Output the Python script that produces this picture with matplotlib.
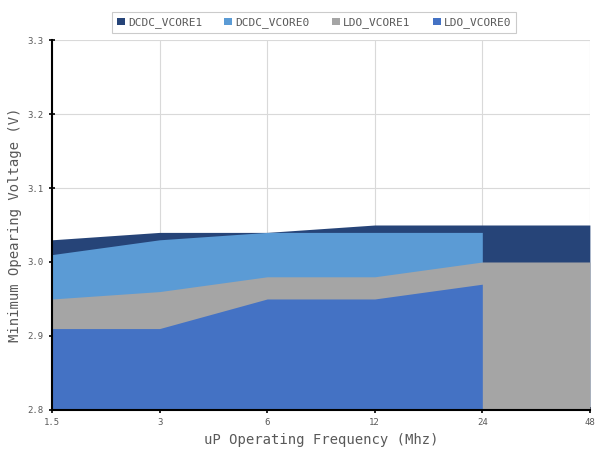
import numpy as np
import matplotlib
matplotlib.use("Agg")
import matplotlib.pyplot as plt

freqs = ["1.5", "3", "6", "12", "24", "48"]
dcdc_vcore1 = [3.03, 3.04, 3.04, 3.05, 3.05, 3.05]
dcdc_vcore0 = [3.01, 3.03, 3.04, 3.04, 3.04, None]
ldo_vcore1 = [2.95, 2.96, 2.98, 2.98, 3.00, 3.00]
ldo_vcore0 = [2.91, 2.91, 2.95, 2.95, 2.97, None]

names = ["DCDC_VCORE1", "DCDC_VCORE0", "LDO_VCORE1", "LDO_VCORE0"]
series = [dcdc_vcore1, dcdc_vcore0, ldo_vcore1, ldo_vcore0]
colors = ["#264478", "#5B9BD5", "#A5A5A5", "#4472C4"]

plt.rcParams['font.family'] = ['DejaVu Sans Mono']

fig = plt.figure(figsize=(5.95, 4.5), dpi=100)
ax = fig.add_axes([0.0874, 0.089, 0.904, 0.822])

x = np.arange(len(freqs))
for name, vals, col in zip(names, series, colors):
    n = sum(v is not None for v in vals)
    ax.fill_between(x[:n], 2.8, np.array(vals[:n], dtype=float), color=col,
                    linewidth=0, label=name, zorder=2)

ax.set_xlim(0, len(freqs) - 1)
ax.set_ylim(2.8, 3.3)
ax.set_xticks(x)
ax.set_xticklabels(freqs)
ax.set_yticks([2.8, 2.9, 3.0, 3.1, 3.2, 3.3])
ax.set_yticklabels(["2.8", "2.9", "3.0", "3.1", "3.2", "3.3"])
ax.grid(True, color="#D9D9D9", linewidth=0.8, zorder=0)
ax.set_axisbelow(True)
ax.tick_params(direction="inout", length=5, width=1.2, labelsize=6.5,
               labelcolor="#595959", color="black")
for s in ["top", "right"]:
    ax.spines[s].set_visible(False)
ax.spines["left"].set_linewidth(1.5)
ax.spines["bottom"].set_linewidth(1.5)

ax.set_xlabel("uP Operating Frequency (Mhz)", fontsize=10, color="#595959")
ax.set_ylabel("Minimum Opearing Voltage (V)", fontsize=10, color="#595959")

leg = fig.legend(loc="upper center", bbox_to_anchor=(0.528, 0.985), ncol=4,
                 fontsize=8, frameon=True, fancybox=False, edgecolor="#BFBFBF",
                 handlelength=0.7, handleheight=0.7, handletextpad=0.3,
                 columnspacing=2.0, borderpad=0.45)
leg.get_frame().set_linewidth(0.8)
for t in leg.get_texts():
    t.set_color("#595959")

fig.savefig("out.png", dpi=100)
